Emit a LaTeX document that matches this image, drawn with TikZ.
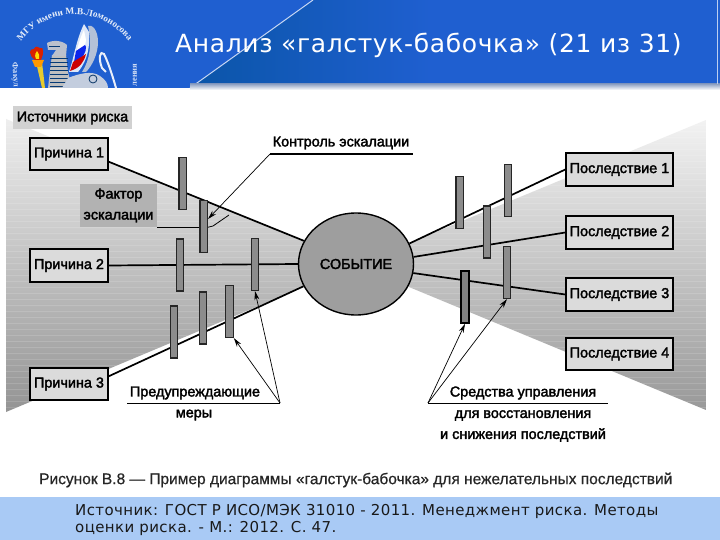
\documentclass[tikz,border=0pt]{standalone}
\usepackage{fontspec}
\setmainfont{Liberation Sans}
\newfontfamily\blurfont[FakeBold=2.2]{Liberation Sans}
\newfontfamily\capfont[FakeBold=0.6]{Liberation Sans}
\newfontfamily\djvfont{DejaVu Sans}
\newfontfamily\logofont{Liberation Serif Bold}
\usetikzlibrary{shapes.geometric,arrows.meta,decorations.text}
\definecolor{hblue}{HTML}{1F5FD0}
\definecolor{hdark}{HTML}{0A55A8}
\definecolor{foot}{HTML}{A9CAF5}
\definecolor{barc}{HTML}{8C8C8C}
\tikzset{
 cbox/.style={draw=black,line width=1.4pt,fill=black!14,minimum width=78pt,minimum height=32pt,inner sep=0pt,font=\blurfont\fontsize{14.4}{15}\selectfont},
 ebox/.style={cbox,minimum width=107pt,minimum height=33pt},
 barn/.style={draw=black!85,line width=1.2pt,fill=barc,minimum width=7.5pt,minimum height=52pt,inner sep=0pt},
 lab/.style={inner sep=0pt,align=center,font=\blurfont\fontsize{14.4}{21}\selectfont},
 lnk/.style={draw=black,line width=1.7pt},
 thin1/.style={draw=black,line width=.8pt},
 arr/.style={draw=black,line width=.7pt,-{Stealth[length=9pt,width=5pt]}},
}
\begin{document}
\begin{tikzpicture}[x=1pt,y=-1pt]
\useasboundingbox (0,0) rectangle (720,540);
\fill[white] (0,0) rectangle (720,540);
% header
\fill[hblue] (0,0) rectangle (720,88);
\begin{scope}
\clip (190,88) -- (313,0) -- (720,0) -- (720,88) -- cycle;
\shade[left color=hdark,middle color=hdark,right color=hblue] (190,0) rectangle (430,88);
\end{scope}
\draw[white!75!hblue,line width=1pt] (190,88) -- (313,0);
\fill[white!70!hblue] (197,83) rectangle (717,84.2);
\shade[top color=black!25!white!70!hblue,bottom color=white] (190,84) rectangle (720,90);
\fill[white!70!hblue] (716.5,0) rectangle (718,84);
% logo
\path[postaction={decorate,decoration={text along path,text align=center,
 text={|\logofont\fontsize{9.4}{10}\selectfont\color{white!88!hblue}|МГУ имени М.В.Ломоносова}}}]
 (14,53) arc[start angle=205,end angle=335,radius=67];
\node[rotate=-87,inner sep=0pt,text=white!80!hblue,font=\logofont\fontsize{8.5}{8.5}\selectfont] (lgl) at (15,75) {Факул};
\node[rotate=90,inner sep=0pt,text=white!80!hblue,font=\logofont\fontsize{8.5}{8.5}\selectfont] (lgr) at (135,75) {ления};
% torch
\fill[yellow!60!brown] (36,62) -- (42,62) -- (45,88) -- (42,88) -- cycle;
\fill[orange!80!yellow] (32,60) -- (44,60) -- (41,67) -- (35,67) -- cycle;
\fill[red!70!orange!85!black] (35,60) .. controls (28,55) and (29,48) .. (34,49) .. controls (35,46) and (38,46) .. (40,48) .. controls (44,46) and (44,54) .. (41,60) -- cycle;
\fill[yellow!80!orange] (36,59) .. controls (34,55) and (36,52) .. (37,51) .. controls (39,54) and (40,56) .. (39,59) -- cycle;
% griffin neck and head
\fill[black!25!white] (52,55) -- (66,55) -- (68,72) -- (72,88) -- (48,88) -- (50,70) -- cycle;
\foreach \yy in {58,62,...,86}{\draw[hdark!70!black,line width=.5pt] (50,\yy) -- (68,\yy);}
\fill[black!20!white!90!hblue] (47,43) .. controls (52,40) and (62,40) .. (67,45) -- (66,56) -- (52,56) -- (56,50) -- (48,50) -- cycle;
\draw[hdark!70!black,line width=.5pt] (49,46) -- (60,46);
% wing
\fill[white!85!hblue] (69,72) .. controls (74,58) and (76,40) .. (84,24) -- (89,32) .. controls (90,46) and (88,60) .. (78,72) -- cycle;
\fill[white] (77,50) .. controls (79,42) and (81,36) .. (84,30) -- (86,40) -- (84,52) -- cycle;
\fill[blue!60!hblue] (76,51) -- (85,45) -- (86,47) .. controls (86,52) and (84,58) .. (74,62) -- cycle;
\fill[red!80!black] (73,62) -- (86,54) .. controls (84,62) and (80,68) .. (70,71) -- cycle;
\fill[black!15!white!80!hblue] (88,26) .. controls (92,24) and (98,30) .. (98,42) .. controls (98,54) and (92,66) .. (86,72) -- (82,72) .. controls (90,60) and (92,44) .. (88,26) -- cycle;
% body, tail
\fill[black!12!white!85!hblue] (68,78) .. controls (78,74) and (92,70) .. (100,76) .. controls (106,80) and (108,84) .. (108,88) -- (62,88) -- cycle;
\draw[hdark!60!black,line width=.8pt] (93,79) circle[radius=4];
\draw[white!90!hblue,line width=2pt] (116,88) .. controls (112,74) and (108,62) .. (104,54) .. controls (100,50) and (98,58) .. (102,68) -- (106,72);
% diagram backdrop
\begin{scope}
\clip (6,119) -- (330,252) -- (330,276) -- (6,412) -- cycle;
\shade[top color=black!5,bottom color=black!42] (0,106) rectangle (330,412);
\foreach \yy in {125,131,...,410}{\draw[white,opacity=.14,line width=.8pt] (0,\yy) -- (330,\yy);}
\end{scope}
\begin{scope}
\clip (706,120) -- (380,255) -- (380,275) -- (706,410) -- cycle;
\shade[top color=black!5,bottom color=black!40] (380,120) rectangle (706,410);
\foreach \yy in {125,131,...,410}{\draw[white,opacity=.14,line width=.8pt] (380,\yy) -- (706,\yy);}
\end{scope}
% nodes
\node[fill=black!18,inner sep=0pt,minimum width=119pt,minimum height=23pt,font=\blurfont\fontsize{14.4}{15}\selectfont] (src) at (72.5,118) {Источники риска};
\node[cbox] (c1) at (69,154) {Причина 1};
\node[cbox,minimum height=33pt] (c2) at (69,265.5) {Причина 2};
\node[cbox] (c3) at (69,384) {Причина 3};
\node[ebox] (e1) at (619.5,169.5) {Последствие 1};
\node[ebox] (e2) at (619.5,232.5) {Последствие 2};
\node[ebox] (e3) at (619.5,294.5) {Последствие 3};
\node[ebox,minimum height=32pt] (e4) at (619.5,354) {Последствие 4};
\node[ellipse,draw=black,line width=1.4pt,fill=black!38,minimum width=115pt,minimum height=102pt,inner sep=0pt,font=\blurfont\fontsize{14.4}{15}\selectfont] (ev) at (356,264) {СОБЫТИЕ};
% links
\draw[lnk] (c1.-11.6) -- (ev.156.5);
\draw[lnk] (c2.east) -- (ev.west);
\draw[lnk] (c3.11.6) -- (ev.203.5);
\draw[lnk] (ev.21.6) -- (e1.west);
\draw[lnk] (ev.7) -- (e2.west);
\draw[lnk] (ev.-9) -- (e3.west);
% bars
\node[barn] (b1) at (182.75,183.5) {};
\node[barn] (b2) at (203.75,226.5) {};
\node[barn] (b3) at (180,265) {};
\node[barn] (b4) at (255,264.5) {};
\node[barn] (b5) at (174,332) {};
\node[barn] (b6) at (203,318) {};
\node[barn] (b7) at (229.5,311.5) {};
\node[barn] (r1) at (459.75,202.5) {};
\node[barn] (r2) at (508,190.5) {};
\node[barn] (r3) at (487,232) {};
\node[barn] (r4) at (507,272.5) {};
\node[barn,draw=black,line width=1.7pt,fill=black!50] (r5) at (465,297) {};
% escalation factor
\node[fill=black!30,inner sep=0pt,minimum width=77pt,minimum height=43pt,lab] (ff) at (118.5,205.5) {Фактор\\эскалации};
\coordinate (ffb) at (ff.south east);
\coordinate (t1) at (213,226);
\coordinate (t2) at (229,215);
\draw[thin1] (ffb) -- (b2.west |- ffb);
\draw[thin1] (b2.east |- ffb) -- (t1) -- (t2);
% control label
\node[lab] (kl) at (341,143) {Контроль эскалации};
\coordinate (k1) at (270,154);
\coordinate (k2) at (413,154);
\coordinate (k3) at (208,219);
\draw[draw=black,line width=1.3pt] (k1) -- (k2);
\draw[arr] (k1) -- (k3);
% preventive
\node[lab] (p1) at (195,393) {Предупреждающие};
\node[lab] (p2) at (194,415) {меры};
\coordinate (pa) at (127,403);
\coordinate (pb) at (280,403);
\draw[thin1] (pa) -- (pb);
\draw[arr] (pb) -- (b7.south east);
\draw[arr] (pb) -- (b4.south);
% recovery
\node[lab] (s1) at (523,393) {Средства управления};
\node[lab,align=center] (s2) at (523,426) {для восстановления\\и снижения последствий};
\coordinate (sa) at (428,403);
\coordinate (sb) at (608,403);
\draw[thin1] (sa) -- (sb);
\draw[arr] (sa) -- (r5.south);
\draw[arr] (sa) -- (r4.south);
% caption
\node[inner sep=0pt,anchor=west,text=black!85,font=\capfont\fontsize{15.5}{16}\selectfont] (cap) at (39,480) {Рисунок В.8 — Пример диаграммы «галстук-бабочка» для нежелательных последствий};
% footer
\fill[foot] (0,497) rectangle (720,540);
\node[inner sep=0pt,anchor=north west,align=left,text=black!90,font=\djvfont\addfontfeature{LetterSpace=2.5}\fontsize{15}{17}\selectfont] (ft) at (75,504) {Источник: ГОСТ Р ИСО/МЭК 31010 - 2011. Менеджмент риска. Методы\\оценки риска. - М.: 2012. С. 47.};
% title
\node[inner sep=0pt,anchor=west,text=white,font=\djvfont\addfontfeature{LetterSpace=2.5}\fontsize{25}{30}\selectfont] (ttl) at (175,45) {Анализ «галстук-бабочка» (21 из 31)};
\end{tikzpicture}
\end{document}
